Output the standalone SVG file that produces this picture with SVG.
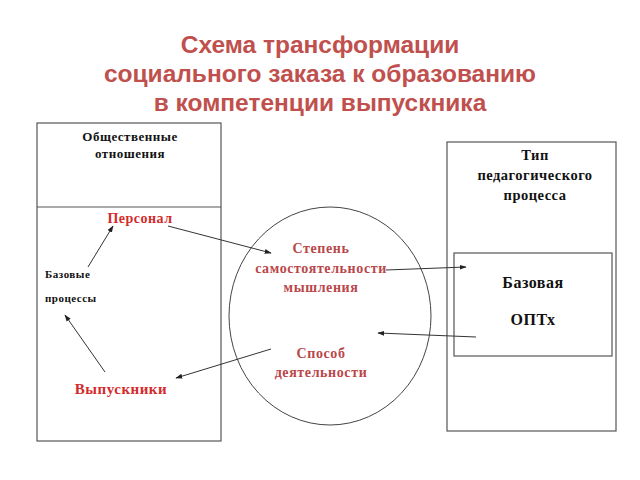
<svg xmlns="http://www.w3.org/2000/svg" width="640" height="480" viewBox="0 0 640 480">
<style>
.title{font-family:"Liberation Sans",Arial,sans-serif;font-weight:bold;font-size:24.5px;fill:#c0504d;text-anchor:middle}
.t{font-family:"Liberation Serif","Times New Roman",serif;font-weight:bold;font-size:13px;fill:#111;text-anchor:middle;letter-spacing:0.5px}
.r{font-family:"Liberation Serif","Times New Roman",serif;font-weight:bold;fill:#d42a2a;text-anchor:middle;letter-spacing:0.5px}
.c{font-family:"Liberation Serif","Times New Roman",serif;font-weight:bold;font-size:14px;fill:#b9474a;text-anchor:middle;letter-spacing:0.6px}
.box{fill:none;stroke:#555;stroke-width:1.2}
.conn{stroke:#333;stroke-width:1;fill:none;marker-end:url(#ah)}
</style>
<defs>
<marker id="ah" viewBox="0 0 10 10" refX="9" refY="5" markerWidth="7" markerHeight="7" orient="auto" markerUnits="userSpaceOnUse">
<path d="M0,1.5 L10,5 L0,8.5 z" fill="#222"/>
</marker>
</defs>
<rect width="640" height="480" fill="#fff"/>
<g id="title">
<text class="title" x="320" y="53">Схема трансформации</text>
<text class="title" x="320" y="82">социального заказа к образованию</text>
<text class="title" x="320" y="111">в компетенции выпускника</text>
</g>
<g id="left-box">
<rect class="box" x="37" y="123" width="184" height="318"/>
<line class="box" x1="37" y1="207" x2="221" y2="207"/>
<text class="t" x="130" y="141">Общественные</text>
<text class="t" x="130" y="158">отношения</text>
</g>
<g id="personal"><text class="r" x="140" y="223" font-size="14">Персонал</text></g>
<g id="base-processes">
<text class="t" x="45" y="278" style="text-anchor:start;font-size:11px">Базовые</text>
<text class="t" x="45" y="302" style="text-anchor:start;font-size:11px">процессы</text>
</g>
<g id="graduates"><text class="r" x="121" y="394" font-size="15">Выпускники</text></g>
<g id="circle">
<ellipse cx="330" cy="316" rx="101" ry="109" fill="none" stroke="#444" stroke-width="1"/>
<text class="c" x="321" y="253">Степень</text>
<text class="c" x="321" y="273">самостоятельности</text>
<text class="c" x="321" y="292">мышления</text>
<text class="c" x="321" y="358">Способ</text>
<text class="c" x="321" y="377">деятельности</text>
</g>
<g id="right-box">
<rect class="box" x="447" y="142" width="169" height="289"/>
<text class="t" x="535" y="160" style="font-size:14.5px">Тип</text>
<text class="t" x="535" y="180" style="font-size:14.5px">педагогического</text>
<text class="t" x="535" y="200" style="font-size:14.5px">процесса</text>
</g>
<g id="base-optx">
<rect class="box" x="454" y="253" width="158" height="103"/>
<text class="t" x="533" y="288" style="font-size:16px">Базовая</text>
<text class="t" x="533" y="325" style="font-size:16px">ОПТх</text>
</g>
<g id="connectors">
<line class="conn" x1="168" y1="226" x2="271" y2="253"/>
<line class="conn" x1="88" y1="267" x2="113" y2="226"/>
<line class="conn" x1="105" y1="372" x2="65" y2="315"/>
<line class="conn" x1="271" y1="349" x2="176" y2="378"/>
<line class="conn" x1="386" y1="270" x2="466" y2="267"/>
<line class="conn" x1="476" y1="337" x2="378" y2="333"/>
</g>
</svg>
